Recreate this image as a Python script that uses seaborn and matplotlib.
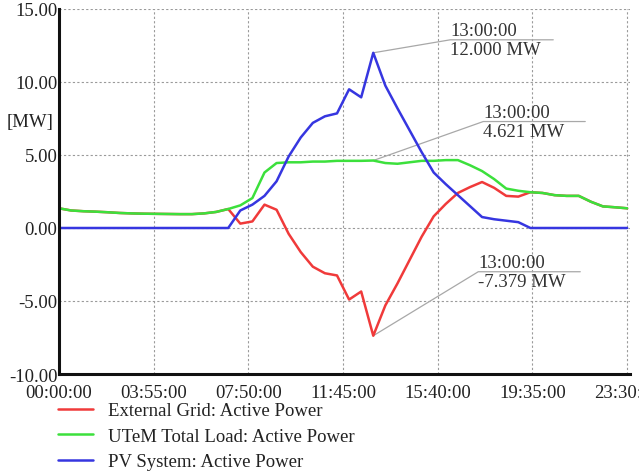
import numpy as np
import pandas as pd
import matplotlib
matplotlib.use("Agg")
import matplotlib.pyplot as plt
import seaborn as sns

# ---- data (hours of day, MW) ----
hours = [0.0, 0.5, 1.0, 1.5, 2.0, 2.5, 3.0, 3.5, 4.0, 4.5, 5.0, 5.5,
         6.0, 6.5, 7.0, 7.5, 8.0, 8.5, 9.0, 9.5, 10.0, 10.5, 11.0, 11.5,
         12.0, 12.5, 13.0, 13.5, 14.0, 14.5, 15.0, 15.5, 16.0, 16.5, 17.0, 17.5,
         18.0, 18.5, 19.0, 19.5, 20.0, 20.5, 21.0, 21.5, 22.0, 22.5, 23.0, 23.5]

load_mw = [1.35, 1.20, 1.15, 1.12, 1.08, 1.03, 1.00, 0.98, 0.97, 0.96, 0.95, 0.95,
           1.00, 1.10, 1.30, 1.55, 2.05, 3.80, 4.45, 4.50, 4.50, 4.55, 4.55, 4.60,
           4.60, 4.60, 4.621, 4.45, 4.40, 4.50, 4.60, 4.60, 4.65, 4.65, 4.30, 3.90,
           3.35, 2.70, 2.55, 2.45, 2.40, 2.25, 2.20, 2.20, 1.80, 1.48, 1.42, 1.35]

pv_mw = [0.0, 0.0, 0.0, 0.0, 0.0, 0.0, 0.0, 0.0, 0.0, 0.0, 0.0, 0.0,
         0.0, 0.0, 0.0, 1.20, 1.60, 2.20, 3.20, 4.90, 6.20, 7.20, 7.65, 7.85,
         9.50, 8.95, 12.00, 9.75, 8.20, 6.70, 5.20, 3.80, 3.00, 2.25, 1.50, 0.75,
         0.60, 0.50, 0.40, 0.0, 0.0, 0.0, 0.0, 0.0, 0.0, 0.0, 0.0, 0.0]

grid_mw = [1.35, 1.20, 1.15, 1.12, 1.08, 1.03, 1.00, 0.98, 0.97, 0.96, 0.95, 0.95,
           1.00, 1.10, 1.30, 0.30, 0.45, 1.60, 1.25, -0.40, -1.65, -2.65, -3.10, -3.25,
           -4.90, -4.35, -7.379, -5.30, -3.80, -2.20, -0.60, 0.80, 1.65, 2.40, 2.80, 3.15,
           2.75, 2.20, 2.15, 2.45, 2.40, 2.25, 2.20, 2.20, 1.80, 1.48, 1.42, 1.35]

series_names = ["External Grid: Active Power",
                "UTeM Total Load: Active Power",
                "PV System: Active Power"]
series_colors = ["#f03a3a", "#3ce03c", "#3636e0"]

xtick_pos = [0.0, 3.9167, 7.8333, 11.75, 15.6667, 19.5833, 23.5]
xtick_labels = ["00:00:00", "03:55:00", "07:50:00", "11:45:00",
                "15:40:00", "19:35:00", "23:30:00"]
ytick_pos = [-10, -5, 0, 5, 10, 15]
ytick_labels = ["-10.00", "-5.00", "0.00", "5.00", "10.00", "15.00"]

annot_time = 13.0
annot_label = "13:00:00"

df = pd.concat([
    pd.DataFrame({"t": hours, "P": grid_mw, "series": series_names[0]}),
    pd.DataFrame({"t": hours, "P": load_mw, "series": series_names[1]}),
    pd.DataFrame({"t": hours, "P": pv_mw, "series": series_names[2]}),
], ignore_index=True)

sns.set_style("white")
plt.rcParams["font.family"] = ["Liberation Serif", "DejaVu Serif"]

W, H = 639, 477
FS = 13.5
fig = plt.figure(figsize=(W / 100, H / 100), dpi=100)
ax = fig.add_axes([59 / W, 1 - 375 / H, 571 / W, 365 / H])

sns.lineplot(data=df, x="t", y="P", hue="series", hue_order=series_names,
             palette=series_colors, linewidth=1.8, ax=ax, legend=True, sort=False)

ax.set_xlim(0, 23.62)
ax.set_ylim(-10, 15)
ax.set_xticks(xtick_pos)
ax.set_xticklabels(xtick_labels)
ax.set_yticks(ytick_pos)
ax.set_yticklabels(ytick_labels)
ax.set_xlabel("")
ax.set_ylabel("")
ax.tick_params(axis="both", length=0, labelsize=FS, colors="#222222")
ax.tick_params(axis="y", pad=1)
ax.tick_params(axis="x", pad=7)
ax.grid(True, linestyle=(0, (2, 2)), color="#9a9a9a", linewidth=0.8)
for s in ["top", "right"]:
    ax.spines[s].set_visible(False)
for s in ["left", "bottom"]:
    ax.spines[s].set_color("#111111")
    ax.spines[s].set_linewidth(2.2)

fig.text(7 / W, 1 - 122 / H, "[MW]", fontsize=FS, color="#222222",
         ha="left", va="center")

# legend below the plot
handles, labels = ax.get_legend_handles_labels()
ax.get_legend().remove()
fig.legend(handles, labels, loc="upper left",
           bbox_to_anchor=(58 / W, 1 - 403 / H), frameon=False,
           fontsize=FS, handlelength=1.85, handletextpad=0.8,
           labelspacing=0.45, borderpad=0, borderaxespad=0)
for txt in fig.legends[0].get_texts():
    txt.set_color("#222222")

# callouts at 13:00
fig.canvas.draw()
inv = ax.transData.inverted()
idx = hours.index(annot_time)
callouts = [
    (pv_mw[idx], "{:.3f} MW".format(pv_mw[idx]), 77, 13, 103),
    (load_mw[idx], "{:.3f} MW".format(load_mw[idx]), 110, 39, 102),
    (grid_mw[idx], "{:.3f} MW".format(grid_mw[idx]), 105, 64, 102),
]
for val, lab, dx, dy, w in callouts:
    px, py = ax.transData.transform((annot_time, val))
    pts = np.array([[px, py], [px + dx, py + dy], [px + dx + w, py + dy]])
    dpts = inv.transform(pts)
    ax.plot(dpts[:, 0], dpts[:, 1], color="#a8a8a8", linewidth=0.9,
            clip_on=False, zorder=1)
    t1 = inv.transform((px + dx, py + dy + 9))
    t2 = inv.transform((px + dx, py + dy - 10))
    ax.text(t1[0], t1[1], annot_label, fontsize=FS, color="#333333",
            ha="left", va="center", clip_on=False)
    ax.text(t2[0], t2[1], lab, fontsize=FS, color="#333333",
            ha="left", va="center", clip_on=False)

fig.savefig("out.png", dpi=100)
